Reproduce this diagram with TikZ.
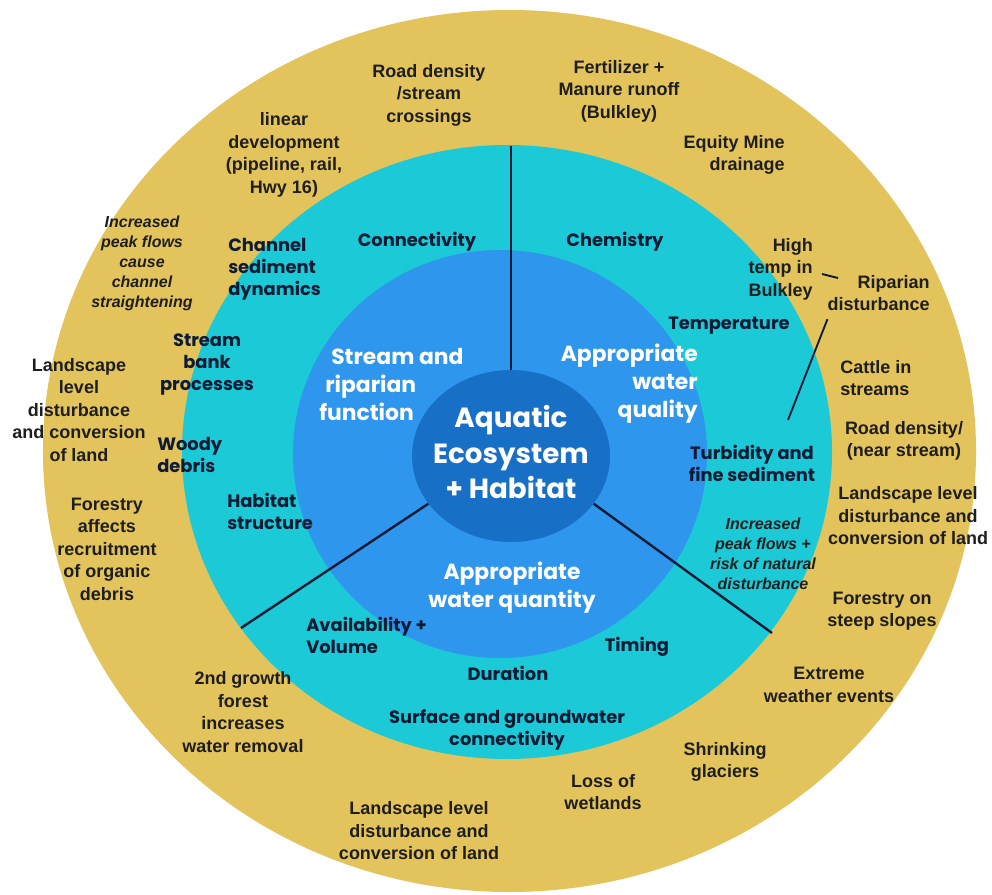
\documentclass[tikz,border=0pt]{standalone}
\usepackage{fontspec}
\setmainfont{Liberation Sans}
\newfontfamily\geo{Poppins}
\usetikzlibrary{shapes.geometric}
\definecolor{gold}{HTML}{E2C35C}
\definecolor{tealring}{HTML}{1CC9D6}
\definecolor{midblue}{HTML}{2F96EE}
\definecolor{deepblue}{HTML}{176FC6}
\definecolor{ink}{HTML}{1E1E1E}
\definecolor{navy}{HTML}{0E1B35}
\begin{document}
\begin{tikzpicture}[x=0.75pt,y=-0.75pt,
  outer/.style={font=\bfseries\fontsize{13.5}{16.9}\selectfont, text=ink, align=center, inner sep=0pt},
  outerit/.style={font=\bfseries\itshape\fontsize{12}{15}\selectfont, text=ink, align=center, inner sep=0pt},
  ringlbl/.style={font=\geo\bfseries\fontsize{13.4}{16.5}\selectfont, text=navy, align=center, inner sep=0pt},
  corelbl/.style={font=\geo\bfseries\fontsize{16.4}{21}\selectfont, text=white, inner sep=0pt},
  hublbl/.style={font=\geo\bfseries\fontsize{20.8}{26.5}\selectfont, text=white, align=center, inner sep=0pt},
  divider/.style={draw=navy, line width=1.8pt},
  link/.style={draw=navy, line width=1.4pt}]
\useasboundingbox (0,0) rectangle (992,895);
\fill[white] (0,0) rectangle (992,895);
% rings
\fill[gold] (509.5,451) ellipse [x radius=349.9pt, y radius=330.75pt];
\fill[tealring] (507,452) ellipse [x radius=243.75pt, y radius=230.25pt];
\fill[midblue] (500,454) ellipse [x radius=155.25pt, y radius=153pt];
\node[ellipse, fill=deepblue, minimum width=148.5pt, minimum height=129pt, inner sep=0pt] (hub) at (511,456) {};
\node[hublbl] (hubtext) at (511,452) {Aquatic\\Ecosystem\\+ Habitat};

% dividers
\coordinate (vtop) at (511,146);
\coordinate (llend) at (241,628);
\coordinate (lrend) at (772,633);
\draw[divider] (hub.north) -- (vtop);
\draw[divider] (hub.210) -- (llend);
\draw[divider] (hub.330) -- (lrend);

% core (blue ring) labels
\node[corelbl, anchor=west, align=left] (srf) at (319,384) {\hspace*{9pt}Stream and\\\hspace*{4.5pt}riparian\\function};
\node[corelbl, anchor=east, align=right] (awq) at (698,384) {Appropriate\\water\\quality};
\node[corelbl, align=center] (awqty) at (512,588) {Appropriate\\water quantity};

% teal ring labels
\node[ringlbl] (conn) at (417,242) {Connectivity};
\node[ringlbl] (chem) at (615,242) {Chemistry};
\node[ringlbl, anchor=west, align=left] (csd) at (228,269.5) {Channel\\sediment\\dynamics};
\node[ringlbl] (sbp) at (207,365) {Stream\\bank\\processes};
\node[ringlbl, anchor=west, align=left] (woody) at (157,455) {Woody\\debris};
\node[ringlbl, anchor=west, align=left] (habs) at (227,511) {Habitat\\structure};
\node[ringlbl, anchor=west, align=left] (avail) at (306,635) {Availability +\\Volume};
\node[ringlbl] (dur) at (508,673) {Duration};
\node[ringlbl] (timing) at (637,647) {Timing};
\node[ringlbl] (sgc) at (507,730) {Surface and groundwater\\connectivity};
\node[ringlbl] (temp) at (729,326) {Temperature};
\node[ringlbl] (turb) at (752,463) {Turbidity and\\fine sediment};
\node[outerit] (ipfr) at (763,554) {Increased\\peak flows +\\risk of natural\\disturbance};

% outer ring labels
\node[outer] (road) at (429,95) {Road density\\/stream\\crossings};
\node[outer] (lin) at (284,155) {linear\\development\\(pipeline, rail,\\Hwy 16)};
\node[outerit] (ipfc) at (142,263) {Increased\\peak flows\\cause\\channel\\straightening};
\node[outer] (lsl) at (79,410) {Landscape\\level\\disturbance\\and conversion\\of land};
\node[outer] (for) at (107,549) {Forestry\\affects\\recruitment\\of organic\\debris};
\node[outer] (sec) at (243,712) {2nd growth\\forest\\increases\\water removal};
\node[outer] (lsb) at (419,831) {Landscape level\\disturbance and\\conversion of land};
\node[outer] (loss) at (603,792) {Loss of\\wetlands};
\node[outer] (shr) at (725,762) {Shrinking\\glaciers};
\node[outer] (ext) at (829,685) {Extreme\\weather events};
\node[outer] (fss) at (882,611) {Forestry on\\steep slopes};
\node[outer] (lsr) at (908,516) {Landscape level\\disturbance and\\conversion of land};
\node[outer] (rdn) at (904,441) {Road density/\\(near stream)};
\node[outer, anchor=west, align=left] (cat) at (840,378) {Cattle in\\streams};
\node[outer, anchor=east, align=right] (ripar) at (930,293) {Riparian\\disturbance};
\node[outer, anchor=east, align=right] (high) at (813,269) {High\\temp in\\Bulkley};
\node[outer, anchor=east, align=right] (equity) at (785,155) {Equity Mine\\drainage};
\node[outer] (fert) at (619,91) {Fertilizer +\\Manure runoff\\(Bulkley)};

% riparian links
\coordinate (riptip) at (788,420);
\coordinate (dashA) at (822,274);
\coordinate (dashB) at (838,278);
\draw[link] ([shift={(0pt,-6pt)}]ripar.south west) -- (riptip);
\draw[link] (dashA) -- (dashB);
\end{tikzpicture}
\end{document}
